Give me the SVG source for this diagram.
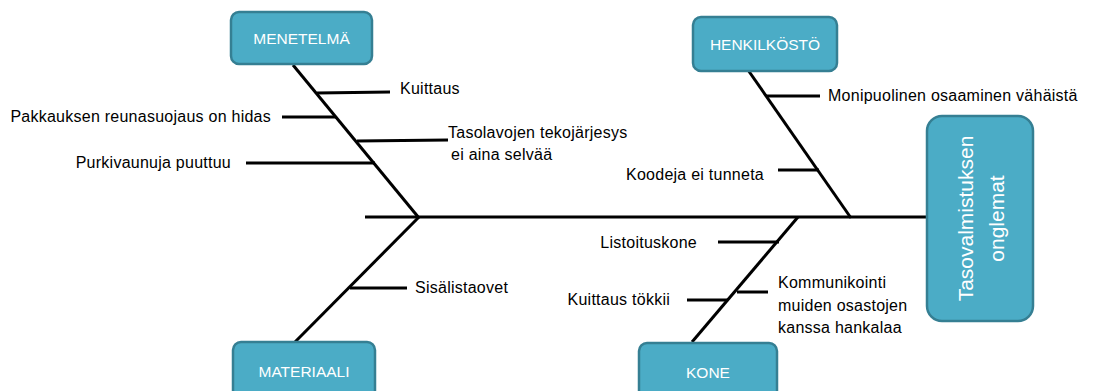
<svg xmlns="http://www.w3.org/2000/svg" width="1097" height="391" viewBox="0 0 1097 391">
  <style>
    .box { fill: #4BACC6; stroke: #357F93; stroke-width: 2.5; }
    .blabel { fill: #FFFFFF; font-family: "Liberation Sans", Arial, sans-serif; font-size: 15.5px; text-anchor: middle; }
    .head { fill: #FFFFFF; font-family: "Liberation Sans", Arial, sans-serif; font-size: 21px; text-anchor: middle; }
    .bone { stroke: #000000; stroke-width: 3; fill: none; stroke-linecap: butt; }
    .cause { fill: #000000; font-family: "Liberation Sans", Arial, sans-serif; font-size: 16px; letter-spacing: 0.25px; }
    .end { text-anchor: end; }
  </style>

  <!-- connectors: spine, category bones and cause ribs -->
  <g id="connectors">
    <line class="bone" x1="365" y1="217" x2="929" y2="217"/>
    <!-- MENETELMÄ bone -->
    <line class="bone" x1="293" y1="65" x2="419" y2="218"/>
    <line class="bone" x1="317" y1="93" x2="390" y2="92"/>
    <line class="bone" x1="282" y1="117" x2="336" y2="117"/>
    <line class="bone" x1="357" y1="141" x2="448" y2="140"/>
    <line class="bone" x1="246" y1="163" x2="375" y2="163"/>
    <!-- MATERIAALI bone -->
    <line class="bone" x1="419" y1="217" x2="294" y2="343"/>
    <line class="bone" x1="350" y1="288" x2="407" y2="288"/>
    <!-- HENKILKÖSTÖ bone -->
    <line class="bone" x1="748" y1="70" x2="851" y2="218"/>
    <line class="bone" x1="766" y1="96" x2="820" y2="96"/>
    <line class="bone" x1="778" y1="170" x2="819" y2="170"/>
    <!-- KONE bone -->
    <line class="bone" x1="798" y1="217" x2="692" y2="342"/>
    <line class="bone" x1="718" y1="242" x2="779" y2="242"/>
    <line class="bone" x1="737" y1="292" x2="768" y2="292"/>
    <line class="bone" x1="687" y1="300" x2="728" y2="300"/>
  </g>

  <g id="cause-labels">
    <text class="cause" x="400" y="94">Kuittaus</text>
    <text class="cause end" x="271" y="122">Pakkauksen reunasuojaus on hidas</text>
    <text class="cause" x="448" y="138">Tasolavojen tekojärjesys</text>
    <text class="cause" x="451" y="160">ei aina selvää</text>
    <text class="cause end" x="231" y="168">Purkivaunuja puuttuu</text>
    <text class="cause" x="415" y="293">Sisälistaovet</text>
    <text class="cause" x="828" y="101">Monipuolinen osaaminen vähäistä</text>
    <text class="cause end" x="764" y="180">Koodeja ei tunneta</text>
    <text class="cause end" x="697" y="248">Listoituskone</text>
    <text class="cause end" x="670" y="305">Kuittaus tökkii</text>
    <text class="cause" x="778" y="288">Kommunikointi</text>
    <text class="cause" x="778" y="311">muiden osastojen</text>
    <text class="cause" x="778" y="333">kanssa hankalaa</text>
  </g>

  <g id="menetelma">
    <rect class="box" x="231" y="12" width="141" height="52" rx="8"/>
    <text class="blabel" x="301.5" y="44">MENETELMÄ</text>
  </g>

  <g id="henkilkosto">
    <rect class="box" x="693" y="17" width="144" height="54" rx="8"/>
    <text class="blabel" x="765" y="50">HENKILKÖSTÖ</text>
  </g>

  <g id="materiaali">
    <rect class="box" x="233" y="342" width="142" height="56" rx="8"/>
    <text class="blabel" x="304" y="377">MATERIAALI</text>
  </g>

  <g id="kone">
    <rect class="box" x="639" y="343" width="138" height="56" rx="8"/>
    <text class="blabel" x="708" y="378">KONE</text>
  </g>

  <g id="tasovalmistuksen-onglemat">
    <rect class="box" x="927" y="116" width="106" height="205" rx="15"/>
    <g transform="translate(980 218.5) rotate(-90)">
      <text class="head" x="0" y="-7">Tasovalmistuksen</text>
      <text class="head" x="0" y="24">onglemat</text>
    </g>
  </g>
</svg>
